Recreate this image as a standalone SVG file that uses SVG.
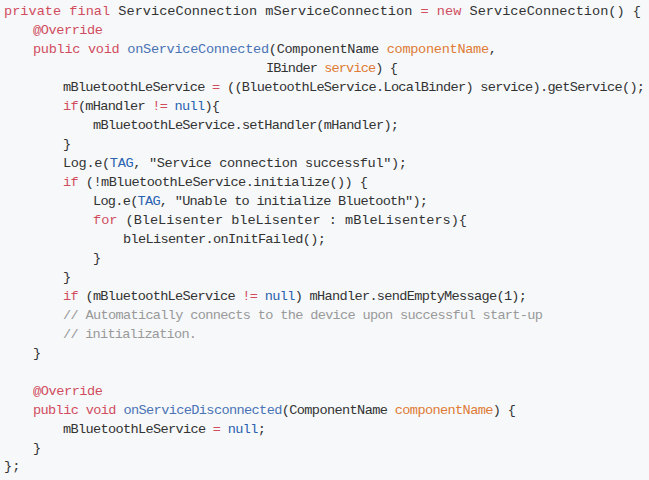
<svg xmlns="http://www.w3.org/2000/svg" width="649" height="480" viewBox="0 0 649 480">
<style>
text{font-family:"Liberation Mono","DejaVu Sans Mono",monospace;font-size:13.6px;fill:#333;white-space:pre}
.k{fill:#d14d5e}.f{fill:#4a73b5}.n{fill:#2a62b0}.p{fill:#e07b35}.c{fill:#999}
</style>
<rect width="649" height="480" fill="#f6f8fa"/>
<g id="code" xml:space="preserve" lengthAdjust="spacing">
<text x="4" y="15" textLength="637"><tspan class="k">private</tspan> <tspan class="k">final</tspan> ServiceConnection mServiceConnection <tspan class="k">=</tspan> <tspan class="k">new</tspan> ServiceConnection() {</text>
<text x="33" y="34" textLength="70"><tspan class="k">@Override</tspan></text>
<text x="33" y="53" textLength="464"><tspan class="k">public</tspan> <tspan class="k">void</tspan> <tspan class="f">onServiceConnected</tspan>(ComponentName <tspan class="p">componentName</tspan>,</text>
<text x="266" y="72" textLength="132">IBinder <tspan class="p">service</tspan>) {</text>
<text x="63" y="91" textLength="582">mBluetoothLeService <tspan class="k">=</tspan> ((BluetoothLeService.LocalBinder) service).getService();</text>
<text x="63" y="110" textLength="157"><tspan class="k">if</tspan>(mHandler <tspan class="k">!=</tspan> <tspan class="n">null</tspan>){</text>
<text x="93" y="129" textLength="306">mBluetoothLeService.setHandler(mHandler);</text>
<text x="63" y="148">}</text>
<text x="63" y="167" textLength="344">Log.e(<tspan class="n">TAG</tspan>, "Service connection successful");</text>
<text x="63" y="186" textLength="305"><tspan class="k">if</tspan> (!mBluetoothLeService.initialize()) {</text>
<text x="93" y="205" textLength="335">Log.e(<tspan class="n">TAG</tspan>, "Unable to initialize Bluetooth");</text>
<text x="93" y="224" textLength="374"><tspan class="k">for</tspan> (BleLisenter bleLisenter : mBleLisenters){</text>
<text x="123" y="243" textLength="203">bleLisenter.onInitFailed();</text>
<text x="93" y="262">}</text>
<text x="63" y="281">}</text>
<text x="63" y="300" textLength="464"><tspan class="k">if</tspan> (mBluetoothLeService <tspan class="k">!=</tspan> <tspan class="n">null</tspan>) mHandler.sendEmptyMessage(1);</text>
<text x="63" y="319" class="c" textLength="480">// Automatically connects to the device upon successful start-up</text>
<text x="63" y="338" class="c" textLength="134">// initialization.</text>
<text x="33" y="357">}</text>
<text x="33" y="395" textLength="70"><tspan class="k">@Override</tspan></text>
<text x="33" y="414" textLength="483"><tspan class="k">public</tspan> <tspan class="k">void</tspan> <tspan class="f">onServiceDisconnected</tspan>(ComponentName <tspan class="p">componentName</tspan>) {</text>
<text x="63" y="433" textLength="203">mBluetoothLeService <tspan class="k">=</tspan> <tspan class="n">null</tspan>;</text>
<text x="33" y="452">}</text>
<text x="4" y="470">};</text>
</g>
</svg>
